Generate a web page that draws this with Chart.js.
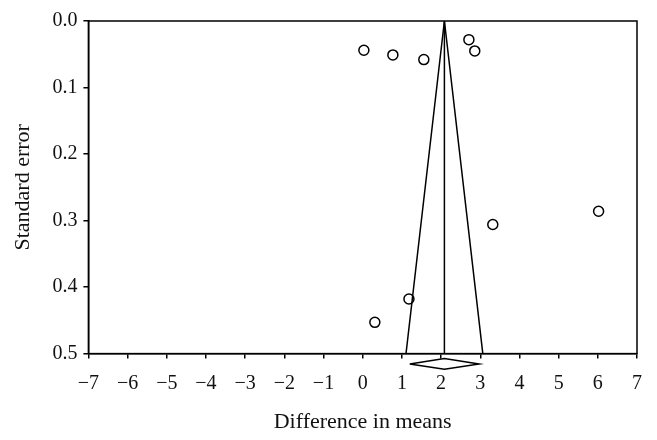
<!DOCTYPE html>
<html>
<head>
<meta charset="utf-8">
<script src="https://cdn.jsdelivr.net/npm/chart.js@4"></script>
<style>
  html, body { margin: 0; padding: 0; background: #fff; }
  #wrap { width: 657px; height: 440px; }
</style>
</head>
<body>
<div id="wrap"><canvas id="funnelChart"></canvas></div>
<script>
// study points: difference in means vs standard error
const studyDiff = [0.03, 0.77, 1.56, 2.71, 2.86, 3.32, 6.02, 1.18, 0.31];
const studySE = [0.044, 0.051, 0.058, 0.028, 0.045, 0.306, 0.286, 0.418, 0.453];

// pooled estimate and its interval
const pooledMean = 2.085;
const pooledLow = 1.2;
const pooledHigh = 2.97;
const funnelSE = [0.5, 0, 0.5];
const funnelDiff = [1.105, 2.085, 3.065];

const xTicks = [-7, -6, -5, -4, -3, -2, -1, 0, 1, 2, 3, 4, 5, 6, 7];
const yTicks = [0.0, 0.1, 0.2, 0.3, 0.4, 0.5];

const serif = "'Liberation Serif', 'Times New Roman', serif";

// box around the plot area
const frame = {
    id: "frame",
    afterDatasetsDraw(chart) {
        const { ctx, chartArea: a } = chart;
        ctx.save();
        ctx.strokeStyle = "#000";
        ctx.lineWidth = 1.5;
        ctx.strokeRect(a.left, a.top, a.right - a.left, a.bottom - a.top);
        ctx.restore();
    }
};

const ctx = document.getElementById("funnelChart").getContext("2d");

new Chart(ctx, {
    type: "scatter",
    data: {
        datasets: [
            {
                label: "Studies",
                data: studyDiff.map((x, i) => ({ x: x, y: studySE[i] })),
                pointRadius: 5,
                pointStyle: "circle",
                borderColor: "#000",
                borderWidth: 1.5,
                backgroundColor: "rgba(0,0,0,0)",
            },
            {
                label: "Funnel",
                type: "line",
                data: funnelDiff.map((x, i) => ({ x: x, y: funnelSE[i] })),
                borderColor: "#000",
                borderWidth: 1.5,
                pointRadius: 0,
                fill: false,
                tension: 0,
            },
            {
                label: "Mean",
                type: "line",
                data: [{ x: pooledMean, y: 0 }, { x: pooledMean, y: 0.5 }],
                borderColor: "#000",
                borderWidth: 1.5,
                pointRadius: 0,
                fill: false,
            },
            {
                label: "Diamond",
                type: "line",
                data: [
                    { x: pooledLow, y: 0.5155 },
                    { x: pooledMean, y: 0.5075 },
                    { x: pooledHigh, y: 0.5155 },
                    { x: pooledMean, y: 0.5235 },
                    { x: pooledLow, y: 0.5155 },
                ],
                borderColor: "#000",
                borderWidth: 1.5,
                pointRadius: 0,
                fill: false,
                clip: false,
            },
        ],
    },
    options: {
        responsive: true,
        maintainAspectRatio: false,
        animation: false,
        layout: { padding: { top: 21, right: 20, left: 10, bottom: 5 } },
        plugins: {
            legend: { display: false },
            tooltip: { enabled: false },
        },
        scales: {
            x: {
                type: "linear",
                min: -7,
                max: 7,
                afterBuildTicks: (axis) => { axis.ticks = xTicks.map(v => ({ value: v })); },
                grid: { drawOnChartArea: false, drawTicks: true, tickLength: 5, color: "#000", lineWidth: 1.5 },
                border: { color: "#000", width: 1.5 },
                ticks: {
                    color: "#111",
                    font: { family: serif, size: 20 },
                    padding: 13,
                    maxRotation: 0,
                    callback: (v) => (v < 0 ? "\u2212" + Math.abs(v) : String(v)),
                },
                title: {
                    display: true,
                    text: "Difference in means",
                    color: "#111",
                    font: { family: serif, size: 22 },
                    padding: { top: 0, bottom: 0 },
                },
            },
            y: {
                type: "linear",
                reverse: true,
                min: 0,
                max: 0.5,
                afterBuildTicks: (axis) => { axis.ticks = yTicks.map(v => ({ value: v })); },
                grid: { drawOnChartArea: false, drawTicks: true, tickLength: 5, color: "#000", lineWidth: 1.5 },
                border: { color: "#000", width: 1.5 },
                ticks: {
                    color: "#111",
                    font: { family: serif, size: 20 },
                    padding: 6,
                    callback: (v) => v.toFixed(1),
                },
                title: {
                    display: true,
                    text: "Standard error",
                    color: "#111",
                    font: { family: serif, size: 22 },
                    padding: { top: 0, bottom: 10 },
                },
            },
        },
    },
    plugins: [frame],
});
</script>
</body>
</html>
